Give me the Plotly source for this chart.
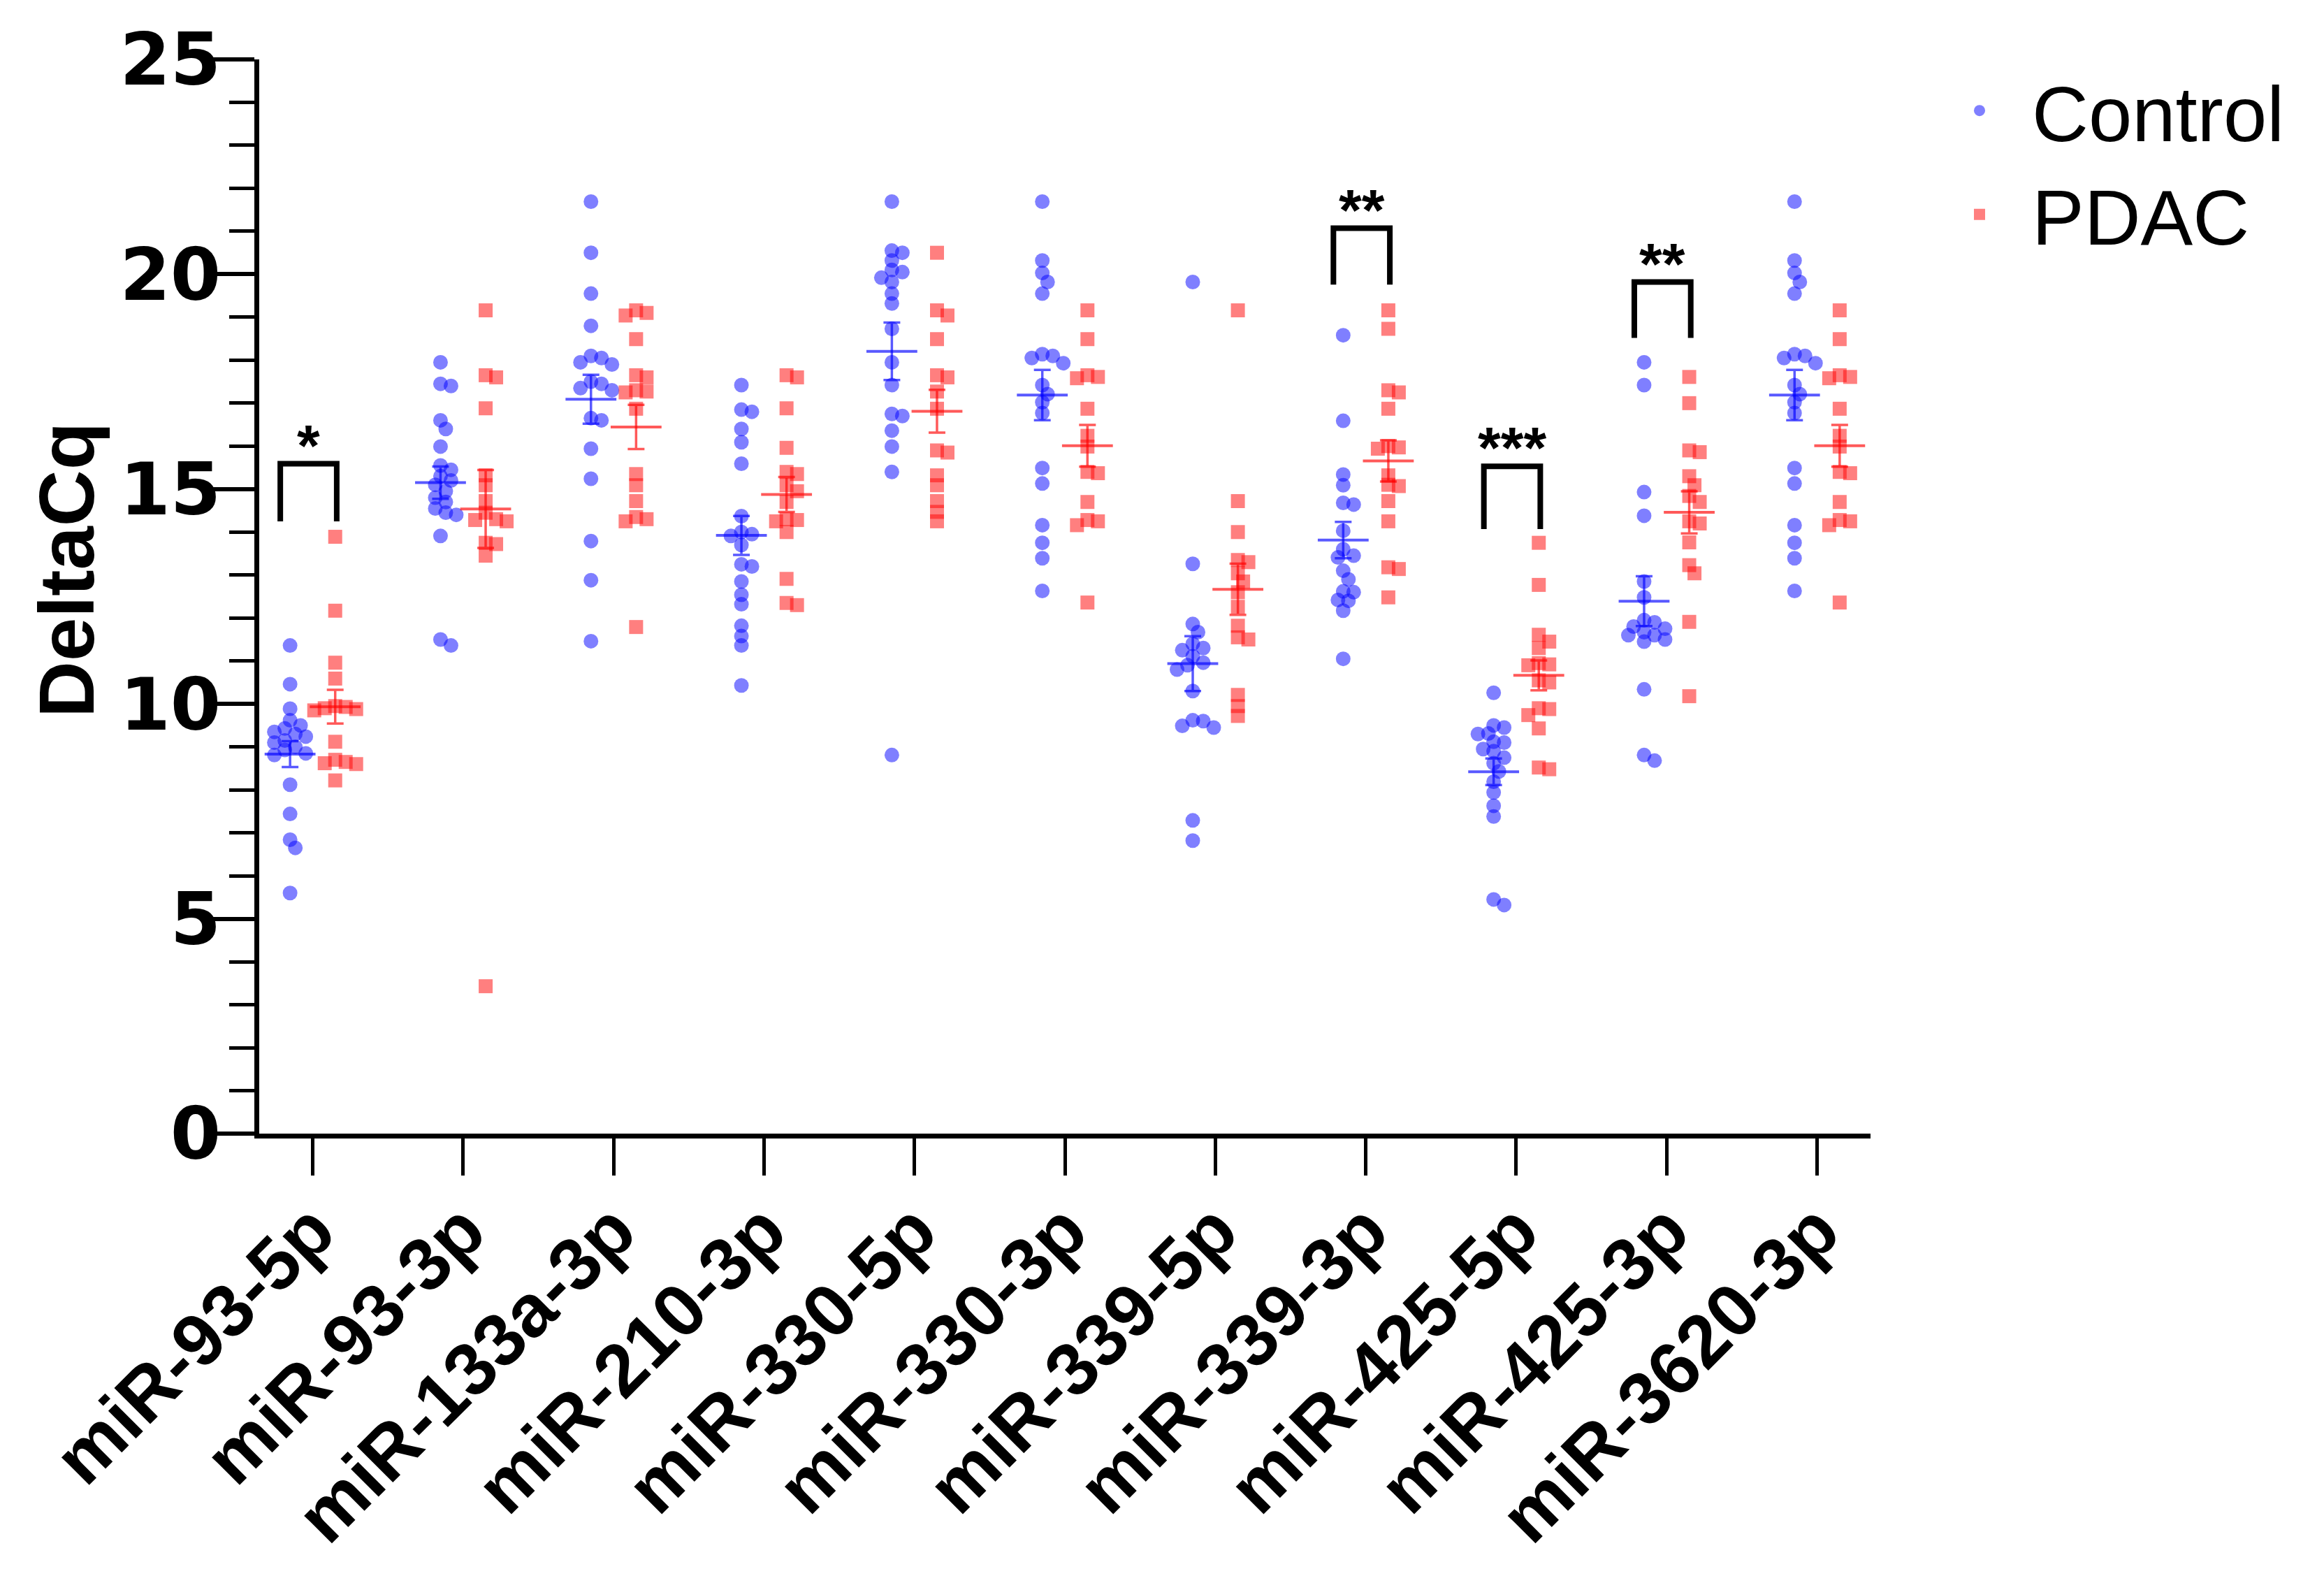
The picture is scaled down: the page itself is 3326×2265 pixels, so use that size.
import numpy as np
import plotly.graph_objects as go

# ---------------- data ----------------
categories = ["miR-93-5p", "miR-93-3p", "miR-133a-3p", "miR-210-3p", "miR-330-5p",
              "miR-330-3p", "miR-339-5p", "miR-339-3p", "miR-425-5p", "miR-425-3p",
              "miR-3620-3p"]

ctrl_93_5p = [11.36, 10.46, 9.89, 9.62, 9.5, 9.43, 9.35, 9.3, 9.24, 9.15, 9.1, 9.0, 8.93,
              8.85, 8.81, 8.12, 7.44, 6.84, 6.65, 5.60]
pdac_93_5p = [13.89, 12.17, 10.96, 10.59, 9.95, 9.93, 9.9, 9.88, 9.85, 9.12, 8.7, 8.65,
              8.6, 8.62, 8.22]

ctrl_93_3p = [17.95, 17.45, 17.4, 16.6, 16.4, 15.99, 15.55, 15.45, 15.3, 15.2, 15.1, 14.95,
              14.8, 14.7, 14.55, 14.45, 14.4, 13.91, 11.5, 11.36]
pdac_93_3p = [19.16, 17.65, 17.6, 16.88, 15.32, 15.09, 14.72, 14.45, 14.3, 14.28, 14.25,
              13.75, 13.72, 13.45, 3.43]

ctrl_133a_3p = [21.69, 20.5, 19.55, 18.8, 18.1, 18.05, 17.95, 17.9, 17.5, 17.45, 17.35,
                17.3, 16.65, 16.6, 15.94, 15.24, 13.79, 12.88, 11.46]
pdac_133a_3p = [19.16, 19.1, 19.04, 18.49, 17.65, 17.6, 17.3, 17.27, 17.25, 16.87, 15.35,
                15.09, 14.72, 14.35, 14.3, 14.25, 11.79]

ctrl_210_3p = [17.42, 16.85, 16.8, 16.4, 16.09, 15.59, 14.37, 14.0, 13.95, 13.91, 13.7,
               13.25, 13.2, 12.85, 12.54, 12.32, 11.82, 11.58, 11.36, 10.43]
pdac_210_3p = [17.65, 17.6, 16.88, 15.96, 15.4, 15.35, 15.09, 14.95, 14.7, 14.3, 14.28,
               14.25, 14.0, 12.91, 12.35, 12.3]

ctrl_330_5p = [21.69, 20.55, 20.5, 20.32, 20.1, 20.05, 19.92, 19.82, 19.55, 19.32, 18.73,
               17.95, 17.42, 16.75, 16.7, 16.36, 15.99, 15.4, 8.81]
pdac_330_5p = [20.5, 19.16, 19.04, 18.49, 17.65, 17.6, 17.27, 16.87, 15.9, 15.85, 15.32,
               15.09, 14.72, 14.47, 14.25]

ctrl_330_3p = [21.69, 20.32, 20.03, 19.82, 19.55, 18.14, 18.1, 18.05, 17.93, 17.42, 17.21,
               17.02, 16.77, 15.49, 15.13, 14.16, 13.75, 13.39, 12.63]
pdac_330_3p = [19.16, 18.49, 17.65, 17.61, 17.58, 16.87, 16.24, 15.99, 15.4, 15.37, 14.7,
               14.28, 14.25, 14.16, 12.36]

ctrl_339_5p = [19.82, 13.26, 11.86, 11.67, 11.4, 11.3, 11.25, 11.11, 10.96, 10.9, 10.8,
               10.3, 9.62, 9.6, 9.49, 9.45, 7.29, 6.82]
pdac_339_5p = [19.16, 14.72, 14.0, 13.35, 13.3, 13.04, 12.85, 12.6, 12.26, 11.82, 11.55,
               11.5, 10.21, 9.95, 9.72]

ctrl_339_3p = [18.58, 16.59, 15.34, 15.09, 14.68, 14.64, 14.03, 13.6, 13.45, 13.41, 13.1,
               12.9, 12.6, 12.62, 12.42, 12.4, 12.17, 11.05]
pdac_339_3p = [19.16, 18.73, 17.3, 17.25, 16.87, 16.0, 15.97, 15.94, 15.32, 15.1, 15.07,
               14.72, 14.25, 13.18, 13.14, 12.48]

ctrl_425_5p = [10.26, 9.5, 9.45, 9.31, 9.3, 9.12, 9.1, 8.95, 8.9, 8.75, 8.62, 8.43, 8.19,
               7.94, 7.63, 7.38, 5.45, 5.32]
pdac_425_5p = [13.75, 12.77, 11.61, 11.45, 11.3, 10.95, 10.92, 10.9, 10.55, 10.5, 9.9,
               9.88, 9.74, 9.43, 8.52, 8.48]

ctrl_425_3p = [17.95, 17.42, 14.93, 14.38, 12.85, 12.48, 11.95, 11.9, 11.8, 11.75, 11.67,
               11.6, 11.6, 11.5, 11.45, 10.34, 8.81, 8.68]
pdac_425_3p = [17.61, 17.0, 15.9, 15.86, 15.3, 15.09, 14.84, 14.7, 14.25, 14.2, 13.76,
               13.23, 13.04, 11.91, 10.18]

ctrl_3620_3p = [21.69, 20.32, 20.03, 19.82, 19.55, 18.14, 18.1, 18.05, 17.93, 17.42, 17.21,
                17.02, 16.77, 15.49, 15.13, 14.16, 13.75, 13.39, 12.63]
pdac_3620_3p = [19.16, 18.49, 17.65, 17.61, 17.58, 16.87, 16.24, 15.99, 15.4, 15.37, 14.7,
                14.28, 14.25, 14.16, 12.36]

control_groups = [ctrl_93_5p, ctrl_93_3p, ctrl_133a_3p, ctrl_210_3p, ctrl_330_5p,
                  ctrl_330_3p, ctrl_339_5p, ctrl_339_3p, ctrl_425_5p, ctrl_425_3p,
                  ctrl_3620_3p]
pdac_groups = [pdac_93_5p, pdac_93_3p, pdac_133a_3p, pdac_210_3p, pdac_330_5p,
               pdac_330_3p, pdac_339_5p, pdac_339_3p, pdac_425_5p, pdac_425_3p,
               pdac_3620_3p]

# significance brackets
sig_categories = ["miR-93-5p", "miR-339-3p", "miR-425-5p", "miR-425-3p"]
sig_top = [15.59, 21.07, 15.53, 19.82]
sig_bottom = [14.25, 19.76, 14.07, 18.52]
sig_labels = ["*", "**", "***", "**"]

y_tick_values = [0, 5, 10, 15, 20, 25]
y_title = "DeltaCq"

# ---------------- layout constants ----------------
W, H = 3326, 2265
ML, MR, MT, MB = 371, 649, 85, 643
X_RANGE = [-0.355, len(categories) - 1 + 0.355]
Y_RANGE = [0, 25]
PX_X = (W - ML - MR) / (X_RANGE[1] - X_RANGE[0])
PX_Y = (H - MT - MB) / (Y_RANGE[1] - Y_RANGE[0])
CTRL_OFF, PDAC_OFF = -0.15, 0.15
BLUE = "rgba(0,0,255,0.5)"
RED = "rgba(255,0,0,0.5)"
BLUE_LINE = "rgba(0,0,255,0.65)"
RED_LINE = "rgba(255,0,0,0.65)"
FONT = "Liberation Sans, Arial, sans-serif"
NUM_FONT = "DejaVu Sans, Liberation Sans, sans-serif"


def swarm_offsets(values, min_dist=13.5, step=7.5):
    """Simple beeswarm: horizontal offsets (in axis units) to reduce overlap."""
    vals = np.asarray(values, dtype=float)
    order = np.argsort(-vals, kind="stable")
    placed = []
    offs = np.zeros(len(vals))
    cands = [0.0]
    for k in range(1, 12):
        cands += [k * step, -k * step]
    for i in order:
        ypx = vals[i] * PX_Y
        chosen = cands[-1]
        for c in cands:
            if all((c - px) ** 2 + (ypx - py) ** 2 >= min_dist ** 2 for px, py in placed):
                chosen = c
                break
        placed.append((chosen, ypx))
        offs[i] = chosen / PX_X
    return offs


fig = go.Figure()

cx, cy, px_, py_ = [], [], [], []
for gi, (cvals, pvals) in enumerate(zip(control_groups, pdac_groups)):
    co = swarm_offsets(cvals)
    po = swarm_offsets(pvals)
    cx += list(gi + CTRL_OFF + co)
    cy += list(cvals)
    px_ += list(gi + PDAC_OFF + po)
    py_ += list(pvals)

fig.add_trace(go.Scatter(x=cx, y=cy, mode="markers", name="Control",
                         marker=dict(symbol="circle", size=21, color=BLUE, line=dict(width=0))))
fig.add_trace(go.Scatter(x=px_, y=py_, mode="markers", name="PDAC",
                         marker=dict(symbol="square", size=20, color=RED, line=dict(width=0))))


# mean +/- SEM
def mean_sem(groups):
    m = [float(np.mean(g)) for g in groups]
    s = [float(np.std(g, ddof=1) / np.sqrt(len(g))) for g in groups]
    return m, s


cm, cs = mean_sem(control_groups)
pm, ps = mean_sem(pdac_groups)
idx = np.arange(len(categories))
for xs, m, s, col in [(idx + CTRL_OFF, cm, cs, BLUE_LINE), (idx + PDAC_OFF, pm, ps, RED_LINE)]:
    fig.add_trace(go.Scatter(
        x=xs, y=m, mode="markers", showlegend=False, hoverinfo="skip",
        marker=dict(symbol="line-ew", size=52, color=col, line=dict(width=4, color=col)),
        error_y=dict(type="data", array=s, visible=True, color=col, thickness=3.5, width=12)))

# significance brackets
for cat, top, bot, lab in zip(sig_categories, sig_top, sig_bottom, sig_labels):
    g = categories.index(cat)
    xl, xr = g - 0.215, g + 0.16
    fig.add_shape(type="path", xref="x", yref="y",
                  path=f"M {xl},{bot} L {xl},{top} L {xr},{top} L {xr},{bot}",
                  line=dict(color="black", width=8))
    fig.add_annotation(x=(xl + xr) / 2, y=top + 0.42, text=lab, showarrow=False,
                       xref="x", yref="y", yanchor="middle",
                       font=dict(family=FONT, size=84, color="black", weight="bold"))

# y-axis title (placed as rotated text, centred like the reference)
fig.add_annotation(x=(95 - ML) / (W - ML - MR), y=1 - (816 - MT) / (H - MT - MB),
                   xref="paper", yref="paper", text=y_title, textangle=-90,
                   showarrow=False, xanchor="center", yanchor="middle",
                   font=dict(family=FONT, size=112, color="black", weight="bold"))

fig.update_layout(
    width=W, height=H,
    margin=dict(l=ML, r=MR, t=MT, b=MB, pad=0),
    paper_bgcolor="white", plot_bgcolor="white",
    font=dict(family=FONT, color="black"),
    showlegend=True,
    legend=dict(x=(2833 - 75 - ML) / (W - ML - MR), y=1.004, xanchor="left", yanchor="top",
                font=dict(family=FONT, size=112, color="black"),
                itemwidth=140, bgcolor="rgba(0,0,0,0)", tracegroupgap=0),
    xaxis=dict(range=X_RANGE, tickmode="array", tickvals=list(idx), ticktext=categories,
               tickangle=-45, ticks="outside", ticklen=53, tickwidth=5, tickcolor="black",
               showline=True, linewidth=7, linecolor="black", showgrid=False, zeroline=False,
               ticklabelstandoff=-26,
               tickfont=dict(family=FONT, size=106, color="black", weight="bold")),
    yaxis=dict(range=Y_RANGE, tickmode="array", tickvals=y_tick_values,
               ticks="outside", ticklen=61, tickwidth=6, tickcolor="black",
               minor=dict(dtick=1, ticklen=36, tickwidth=5, ticks="outside", tickcolor="black",
                          showgrid=False),
               showline=True, linewidth=7, linecolor="black", showgrid=False, zeroline=False,
               ticklabelstandoff=-34,
               tickfont=dict(family=NUM_FONT, size=104, color="black", weight="bold")),
)

fig.write_html("out.html", config={"displayModeBar": False},
               post_script="document.body.style.margin='0';")
